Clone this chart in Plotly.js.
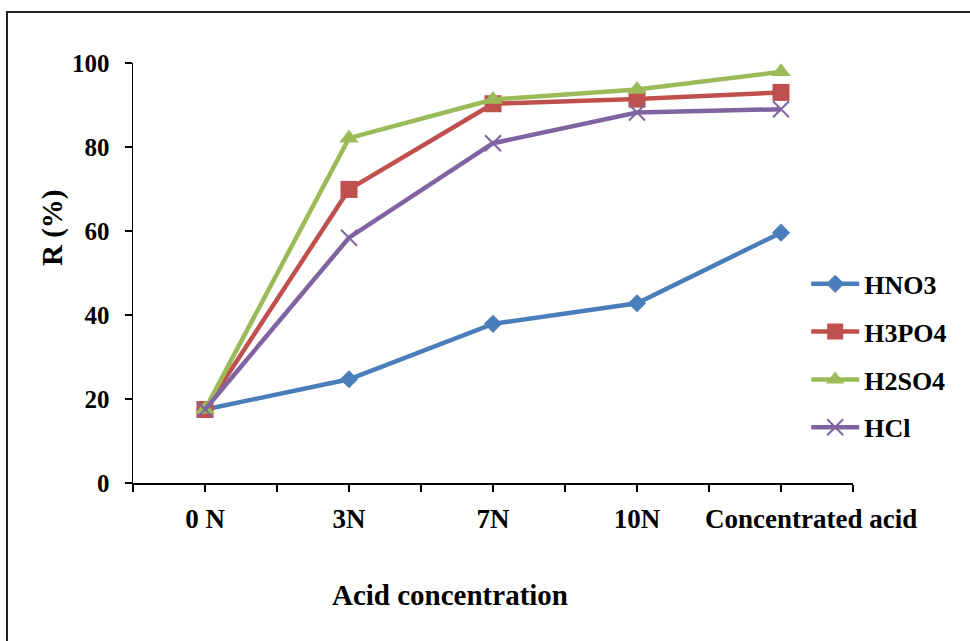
<!DOCTYPE html>
<html>
<head>
<meta charset="utf-8">
<script src="https://cdn.plot.ly/plotly-3.0.1.min.js"></script>
<style>
  html, body { margin: 0; padding: 0; background: #fff; overflow: hidden; }
  #wrap { position: relative; width: 970px; height: 641px; }
  #frame { position: absolute; left: 6px; top: 11px; width: 980px; height: 660px; border: 2px solid #222; box-sizing: border-box; pointer-events: none; }
  #chart { position: absolute; left: 0; top: 0; width: 970px; height: 641px; }
</style>
</head>
<body>
<div id="wrap">
  <div id="chart"></div>
  <div id="frame"></div>
</div>
<script>
// Data
const categories = ["0 N", "3N", "7N", "10N", "Concentrated acid"];
const HNO3  = [17.5, 24.7, 37.9, 42.8, 59.6];
const H3PO4 = [17.5, 69.9, 90.3, 91.4, 93.0];
const H2SO4 = [17.5, 82.1, 91.3, 93.7, 97.9];
const HCl   = [17.5, 58.4, 80.9, 88.2, 89.0];
const yTicks = [0, 20, 40, 60, 80, 100];

const xs = categories.map((c, i) => i);
const last = categories.length - 1;
// tick marks at every category and at every boundary between categories;
// the long last label is placed as an annotation, shifted right as in the original
const xTickVals = [];
const xTickText = [];
for (let i = 0; i <= categories.length; i++) {
  xTickVals.push(i - 0.5); xTickText.push("");
  if (i < categories.length) {
    xTickVals.push(i);
    xTickText.push(i === last ? "" : categories[i]);
  }
}

const FONT = "Liberation Serif, Times New Roman, serif";

function series(name, y, color, symbol, size, lineW) {
  return {
    type: "scatter", mode: "lines+markers", name: name, x: xs, y: y,
    legendgroup: name,
    line: { color: color, width: 4.5 },
    marker: { color: color, symbol: symbol, size: size, line: { color: color, width: lineW || 0 } },
    hoverinfo: "skip"
  };
}

const traces = [
  series("HNO3", HNO3, "#4a7ebb", "diamond", 14),
  series("H3PO4", H3PO4, "#c0504d", "square", 17),
  series("H2SO4", H2SO4, "#9bbb59", "triangle-up", 17),
  series("HCl", HCl, "#8064a2", "x-thin", 16, 2)
];

const layout = {
  width: 970, height: 641,
  margin: { l: 133, r: 117, t: 63, b: 158 },
  paper_bgcolor: "#fff", plot_bgcolor: "#fff",
  font: { family: FONT, color: "#000", size: 25 },
  showlegend: true,
  legend: {
    x: 0.935, y: 0.53, xanchor: "left", yanchor: "top",
    font: { family: FONT, size: 26, color: "#000", weight: "bold" },
    tracegroupgap: 11, itemwidth: 48, bgcolor: "rgba(0,0,0,0)"
  },
  xaxis: {
    range: [-0.5, categories.length - 0.5],
    tickmode: "array", tickvals: xTickVals, ticktext: xTickText,
    tickangle: 0,
    ticks: "outside", ticklen: 7, tickwidth: 1.2, tickcolor: "#000",
    showline: true, linecolor: "#000", linewidth: 1.5,
    showgrid: false, zeroline: false, fixedrange: true,
    ticklabelstandoff: 4,
    tickfont: { family: FONT, size: 27, color: "#000", weight: "bold" }
  },
  yaxis: {
    range: [0, 100],
    tickmode: "array", tickvals: yTicks, ticktext: yTicks.map(String),
    ticks: "outside", ticklen: 7, tickwidth: 1.2, tickcolor: "#000",
    showline: true, linecolor: "#000", linewidth: 1.5,
    showgrid: false, zeroline: false, fixedrange: true,
    ticklabelstandoff: 10,
    tickfont: { family: FONT, size: 25, color: "#000", weight: "bold" }
  },
  annotations: [
    { text: categories[last], xref: "x", yref: "paper",
      x: last, y: 0, xanchor: "center", yanchor: "middle", xshift: 30, yshift: -36,
      showarrow: false, font: { family: FONT, size: 27, color: "#000", weight: "bold" } },
    { text: "Acid concentration", xref: "paper", yref: "paper",
      x: (450 - 133) / 720, y: -(595 - 483) / 420, xanchor: "center", yanchor: "middle",
      showarrow: false, font: { family: FONT, size: 29, color: "#000", weight: "bold" } },
    { text: "R (%)", xref: "paper", yref: "paper", textangle: -90,
      x: (52 - 133) / 720, y: (483 - 228) / 420, xanchor: "center", yanchor: "middle",
      showarrow: false, font: { family: FONT, size: 29, color: "#000", weight: "bold" } }
  ]
};

Plotly.newPlot("chart", traces, layout, { displayModeBar: false, staticPlot: true });
</script>
</body>
</html>
